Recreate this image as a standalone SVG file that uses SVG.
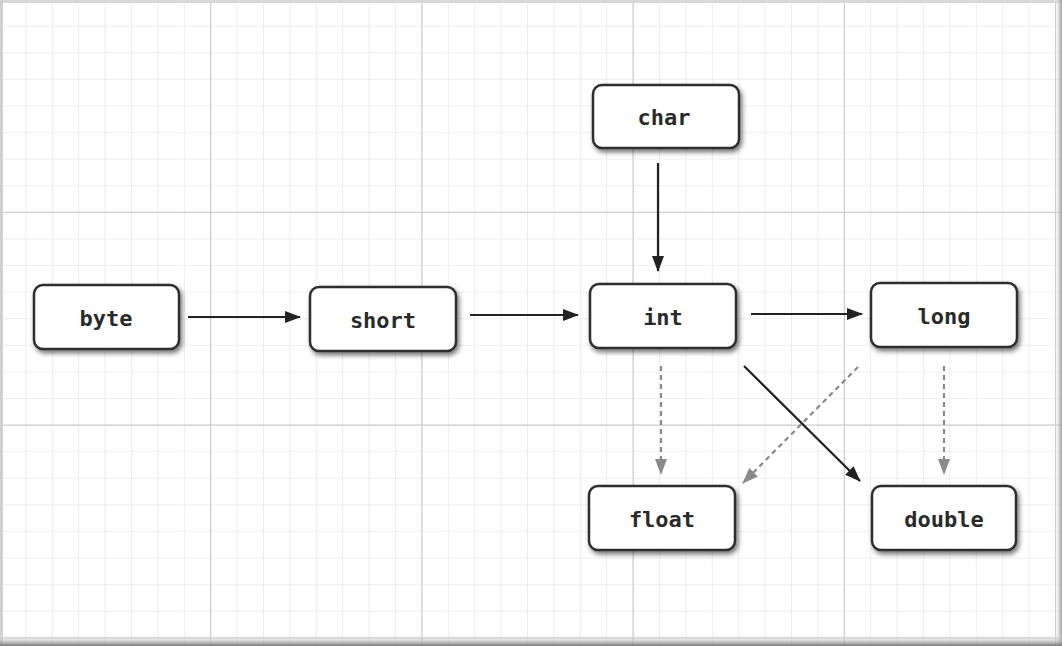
<svg xmlns="http://www.w3.org/2000/svg" width="1062" height="646" viewBox="0 0 1062 646">
<defs>
<style>
.box{fill:#fff;stroke:#2e2e2e;stroke-width:2.5;filter:url(#sh)}
.lbl{font-family:"DejaVu Sans Mono","Liberation Mono",monospace;font-size:22px;font-weight:bold;fill:#2a2a2a;text-anchor:middle;dominant-baseline:central}
.solid{stroke:#222;stroke-width:2.2;fill:none}
.dash{stroke:#8a8a8a;stroke-width:2.2;fill:none;stroke-dasharray:5 4}
</style>
<filter id="sh" x="-20%" y="-30%" width="140%" height="160%">
<feDropShadow dx="2" dy="3" stdDeviation="2.5" flood-color="#000" flood-opacity="0.55"/>
</filter>
<marker id="ah" markerWidth="16" markerHeight="12" refX="15" refY="6" orient="auto" markerUnits="userSpaceOnUse">
<path d="M0,0 L16,6 L0,12 Z" fill="#222"/>
</marker>
<marker id="ahg" markerWidth="16" markerHeight="12" refX="15" refY="6" orient="auto" markerUnits="userSpaceOnUse">
<path d="M0,0 L16,6 L0,12 Z" fill="#8a8a8a"/>
</marker>
<pattern id="minor" width="26.4" height="26.6" patternUnits="userSpaceOnUse">
<path d="M26.4,0 V26.6 M0,26.6 H26.4" stroke="#e2e2e2" stroke-width="1.2" fill="none"/>
</pattern>
<pattern id="major" width="211.2" height="212.8" patternUnits="userSpaceOnUse">
<path d="M211.2,0 V212.8 M0,212.8 H211.2" stroke="#c6c6c6" stroke-width="2" fill="none"/>
</pattern>
<linearGradient id="bot" x1="0" y1="0" x2="0" y2="1">
<stop offset="0" stop-color="#fff" stop-opacity="0"/>
<stop offset="1" stop-color="#777"/>
</linearGradient>
<linearGradient id="rgt" x1="0" y1="0" x2="1" y2="0">
<stop offset="0" stop-color="#fff" stop-opacity="0"/>
<stop offset="1" stop-color="#999"/>
</linearGradient>
</defs>
<rect width="1062" height="646" fill="#fff"/>
<rect width="1062" height="646" fill="url(#minor)"/>
<rect width="1062" height="646" fill="url(#major)"/>
<rect x="0" y="0" width="1062" height="3" fill="#d8d8d8"/>
<rect x="0" y="0" width="3" height="646" fill="#d0d0d0"/>
<rect x="1054" y="0" width="8" height="646" fill="url(#rgt)"/>
<rect x="0" y="634" width="1062" height="12" fill="url(#bot)"/>

<g id="connectors">
<line class="solid" x1="188" y1="317" x2="300" y2="317" marker-end="url(#ah)"/>
<line class="solid" x1="470" y1="315" x2="578" y2="315" marker-end="url(#ah)"/>
<line class="solid" x1="751" y1="314" x2="862" y2="314" marker-end="url(#ah)"/>
<line class="solid" x1="658" y1="163" x2="658" y2="271" marker-end="url(#ah)"/>
<line class="solid" x1="744" y1="366" x2="860" y2="481" marker-end="url(#ah)"/>
<line class="dash" x1="661" y1="366" x2="661" y2="474" marker-end="url(#ahg)"/>
<line class="dash" x1="944" y1="366" x2="944" y2="474" marker-end="url(#ahg)"/>
<line class="dash" x1="858" y1="367" x2="743" y2="483" marker-end="url(#ahg)"/>
</g>

<g id="byte"><rect class="box" x="34" y="285" width="145" height="64" rx="9"/><text class="lbl" x="106" y="318">byte</text></g>
<g id="short"><rect class="box" x="310" y="287" width="146" height="64" rx="9"/><text class="lbl" x="383" y="320">short</text></g>
<g id="int"><rect class="box" x="590" y="284" width="146" height="64" rx="9"/><text class="lbl" x="663" y="317">int</text></g>
<g id="long"><rect class="box" x="871" y="283" width="146" height="64" rx="9"/><text class="lbl" x="944" y="316">long</text></g>
<g id="char"><rect class="box" x="593" y="85" width="146" height="63" rx="9"/><text class="lbl" x="664" y="117">char</text></g>
<g id="float"><rect class="box" x="589" y="486" width="146" height="64" rx="9"/><text class="lbl" x="662" y="519">float</text></g>
<g id="double"><rect class="box" x="872" y="486" width="144" height="64" rx="9"/><text class="lbl" x="944" y="519">double</text></g>
</svg>
